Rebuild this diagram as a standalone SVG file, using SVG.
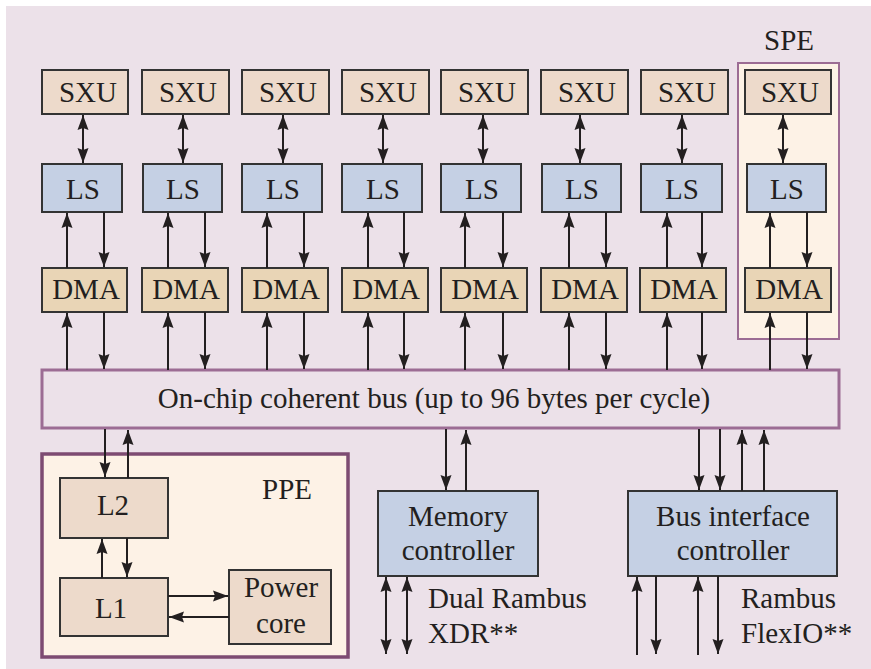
<svg xmlns="http://www.w3.org/2000/svg" width="871" height="669" viewBox="0 0 871 669">
<defs>
<marker id="ah" markerUnits="userSpaceOnUse" markerWidth="16" markerHeight="12" refX="15" refY="6" orient="auto-start-reverse" viewBox="0 0 16 12">
<path d="M0,0.5 L15,6 L0,11.5 L2,6 z" fill="#231f20"/>
</marker>
</defs>
<style>
.sxu{fill:#eddacb;stroke:#333;stroke-width:2}
.ls{fill:#c5d0e4;stroke:#333;stroke-width:2}
.dma{fill:#e9d5b6;stroke:#333;stroke-width:2}
.ctl{fill:#c5d0e4;stroke:#333;stroke-width:2}
.ppeb{fill:#eddacb;stroke:#333;stroke-width:2}
.t{font-family:"Liberation Serif",serif;font-size:29px;fill:#231f20;text-anchor:middle}
.lt{font-family:"Liberation Serif",serif;font-size:29px;fill:#231f20;text-anchor:start}
.c line{stroke:#231f20;stroke-width:2}
.a{marker-end:url(#ah)}
.d{marker-start:url(#ah);marker-end:url(#ah)}
</style>
<rect x="6" y="6" width="865" height="663" fill="#ece1e9"/>
<g id="spe-container">
<rect x="738" y="63" width="101" height="276" fill="#fdf2e6" stroke="#9c6c94" stroke-width="2"/>
<text class="t" x="789" y="50" style="font-family:'Liberation Serif',serif">SPE</text>
</g>
<g id="col1">
<g id="sxu1"><rect class="sxu" x="42" y="70" width="86" height="44"/><text class="t" x="88" y="102" style="font-family:'Liberation Serif',serif">SXU</text></g>
<g id="ls1"><rect class="ls" x="42" y="164" width="80" height="48"/><text class="t" x="83" y="199" style="font-family:'Liberation Serif',serif">LS</text></g>
<g id="dma1"><rect class="dma" x="42" y="268" width="85" height="44"/><text class="t" x="86" y="299" style="font-family:'Liberation Serif',serif">DMA</text></g>
</g>
<g id="col2">
<g id="sxu2"><rect class="sxu" x="142" y="70" width="87" height="44"/><text class="t" x="188" y="102" style="font-family:'Liberation Serif',serif">SXU</text></g>
<g id="ls2"><rect class="ls" x="143" y="164" width="79" height="48"/><text class="t" x="183" y="199" style="font-family:'Liberation Serif',serif">LS</text></g>
<g id="dma2"><rect class="dma" x="142" y="268" width="86" height="44"/><text class="t" x="186" y="299" style="font-family:'Liberation Serif',serif">DMA</text></g>
</g>
<g id="col3">
<g id="sxu3"><rect class="sxu" x="242" y="70" width="87" height="44"/><text class="t" x="288" y="102" style="font-family:'Liberation Serif',serif">SXU</text></g>
<g id="ls3"><rect class="ls" x="242" y="164" width="80" height="48"/><text class="t" x="283" y="199" style="font-family:'Liberation Serif',serif">LS</text></g>
<g id="dma3"><rect class="dma" x="242" y="268" width="86" height="44"/><text class="t" x="286" y="299" style="font-family:'Liberation Serif',serif">DMA</text></g>
</g>
<g id="col4">
<g id="sxu4"><rect class="sxu" x="342" y="70" width="87" height="44"/><text class="t" x="388" y="102" style="font-family:'Liberation Serif',serif">SXU</text></g>
<g id="ls4"><rect class="ls" x="342" y="164" width="80" height="48"/><text class="t" x="383" y="199" style="font-family:'Liberation Serif',serif">LS</text></g>
<g id="dma4"><rect class="dma" x="342" y="268" width="86" height="44"/><text class="t" x="386" y="299" style="font-family:'Liberation Serif',serif">DMA</text></g>
</g>
<g id="col5">
<g id="sxu5"><rect class="sxu" x="441" y="70" width="87" height="44"/><text class="t" x="487" y="102" style="font-family:'Liberation Serif',serif">SXU</text></g>
<g id="ls5"><rect class="ls" x="441" y="164" width="80" height="48"/><text class="t" x="482" y="199" style="font-family:'Liberation Serif',serif">LS</text></g>
<g id="dma5"><rect class="dma" x="441" y="268" width="86" height="44"/><text class="t" x="485" y="299" style="font-family:'Liberation Serif',serif">DMA</text></g>
</g>
<g id="col6">
<g id="sxu6"><rect class="sxu" x="541" y="70" width="87" height="44"/><text class="t" x="587" y="102" style="font-family:'Liberation Serif',serif">SXU</text></g>
<g id="ls6"><rect class="ls" x="542" y="164" width="79" height="48"/><text class="t" x="582" y="199" style="font-family:'Liberation Serif',serif">LS</text></g>
<g id="dma6"><rect class="dma" x="541" y="268" width="86" height="44"/><text class="t" x="585" y="299" style="font-family:'Liberation Serif',serif">DMA</text></g>
</g>
<g id="col7">
<g id="sxu7"><rect class="sxu" x="641" y="70" width="87" height="44"/><text class="t" x="687" y="102" style="font-family:'Liberation Serif',serif">SXU</text></g>
<g id="ls7"><rect class="ls" x="641" y="164" width="81" height="48"/><text class="t" x="682" y="199" style="font-family:'Liberation Serif',serif">LS</text></g>
<g id="dma7"><rect class="dma" x="640" y="268" width="86" height="44"/><text class="t" x="684" y="299" style="font-family:'Liberation Serif',serif">DMA</text></g>
</g>
<g id="col8">
<g id="sxu8"><rect class="sxu" x="745" y="70" width="86" height="44"/><text class="t" x="790" y="102" style="font-family:'Liberation Serif',serif">SXU</text></g>
<g id="ls8"><rect class="ls" x="747" y="164" width="79" height="48"/><text class="t" x="787" y="199" style="font-family:'Liberation Serif',serif">LS</text></g>
<g id="dma8"><rect class="dma" x="745" y="268" width="86" height="44"/><text class="t" x="789" y="299" style="font-family:'Liberation Serif',serif">DMA</text></g>
</g>
<g id="bus">
<rect x="42" y="370" width="797" height="58" fill="#ece1e9" stroke="#9c6c94" stroke-width="3"/>
<text class="t" x="434" y="408" style="font-family:'Liberation Serif',serif">On-chip coherent bus (up to 96 bytes per cycle)</text>
</g>
<g id="ppe">
<rect x="42" y="454" width="306" height="203" fill="#fdf2e6" stroke="#7d4b72" stroke-width="3.5"/>
<text class="t" x="287" y="499" style="font-family:'Liberation Serif',serif">PPE</text>
</g>
<g id="l2"><rect class="ppeb" x="60" y="478" width="108" height="60"/><text class="t" x="113" y="515" style="font-family:'Liberation Serif',serif">L2</text></g>
<g id="l1"><rect class="ppeb" x="60" y="578" width="108" height="58"/><text class="t" x="111" y="618" style="font-family:'Liberation Serif',serif">L1</text></g>
<g id="power-core"><rect class="ppeb" x="229" y="570" width="102" height="74"/><text class="t" x="281" y="597" style="font-family:'Liberation Serif',serif">Power</text><text class="t" x="281" y="633" style="font-family:'Liberation Serif',serif">core</text></g>
<g id="memory-controller"><rect class="ctl" x="378" y="491" width="160" height="85"/><text class="t" x="458" y="526" style="font-family:'Liberation Serif',serif">Memory</text><text class="t" x="458" y="560" style="font-family:'Liberation Serif',serif">controller</text></g>
<g id="bus-interface-controller"><rect class="ctl" x="628" y="491" width="209" height="85"/><text class="t" x="733" y="526" style="font-family:'Liberation Serif',serif">Bus interface</text><text class="t" x="733" y="560" style="font-family:'Liberation Serif',serif">controller</text></g>
<g id="labels">
<text class="lt" x="428" y="608" style="font-family:'Liberation Serif',serif">Dual Rambus</text>
<text class="lt" x="428" y="643" style="font-family:'Liberation Serif',serif">XDR**</text>
<text class="lt" x="741" y="608" style="font-family:'Liberation Serif',serif">Rambus</text>
<text class="lt" x="741" y="643" style="font-family:'Liberation Serif',serif">FlexIO**</text>
</g>
<g id="connectors" class="c">
<line class="d" x1="83" y1="115" x2="83" y2="163"/>
<line class="a" x1="67" y1="268" x2="67" y2="213"/>
<line class="a" x1="104" y1="212" x2="104" y2="267"/>
<line class="a" x1="67" y1="370" x2="67" y2="313"/>
<line class="a" x1="104" y1="312" x2="104" y2="369"/>
<line class="d" x1="183" y1="115" x2="183" y2="163"/>
<line class="a" x1="168" y1="268" x2="168" y2="213"/>
<line class="a" x1="205" y1="212" x2="205" y2="267"/>
<line class="a" x1="168" y1="370" x2="168" y2="313"/>
<line class="a" x1="205" y1="312" x2="205" y2="369"/>
<line class="d" x1="283" y1="115" x2="283" y2="163"/>
<line class="a" x1="267" y1="268" x2="267" y2="213"/>
<line class="a" x1="304" y1="212" x2="304" y2="267"/>
<line class="a" x1="267" y1="370" x2="267" y2="313"/>
<line class="a" x1="304" y1="312" x2="304" y2="369"/>
<line class="d" x1="383" y1="115" x2="383" y2="163"/>
<line class="a" x1="368" y1="268" x2="368" y2="213"/>
<line class="a" x1="404" y1="212" x2="404" y2="267"/>
<line class="a" x1="368" y1="370" x2="368" y2="313"/>
<line class="a" x1="404" y1="312" x2="404" y2="369"/>
<line class="d" x1="483" y1="115" x2="483" y2="163"/>
<line class="a" x1="465" y1="268" x2="465" y2="213"/>
<line class="a" x1="503" y1="212" x2="503" y2="267"/>
<line class="a" x1="465" y1="370" x2="465" y2="313"/>
<line class="a" x1="503" y1="312" x2="503" y2="369"/>
<line class="d" x1="580" y1="115" x2="580" y2="163"/>
<line class="a" x1="569" y1="268" x2="569" y2="213"/>
<line class="a" x1="606" y1="212" x2="606" y2="267"/>
<line class="a" x1="569" y1="370" x2="569" y2="313"/>
<line class="a" x1="606" y1="312" x2="606" y2="369"/>
<line class="d" x1="682" y1="115" x2="682" y2="163"/>
<line class="a" x1="667" y1="268" x2="667" y2="213"/>
<line class="a" x1="702" y1="212" x2="702" y2="267"/>
<line class="a" x1="667" y1="370" x2="667" y2="313"/>
<line class="a" x1="702" y1="312" x2="702" y2="369"/>
<line class="d" x1="783" y1="115" x2="783" y2="163"/>
<line class="a" x1="770" y1="268" x2="770" y2="213"/>
<line class="a" x1="807" y1="212" x2="807" y2="267"/>
<line class="a" x1="770" y1="370" x2="770" y2="313"/>
<line class="a" x1="807" y1="312" x2="807" y2="369"/>
<line class="a" x1="105" y1="429" x2="105" y2="477"/>
<line class="a" x1="128" y1="478" x2="128" y2="430"/>
<line class="a" x1="102" y1="578" x2="102" y2="539"/>
<line class="a" x1="127" y1="538" x2="127" y2="577"/>
<line class="a" x1="168" y1="596" x2="228" y2="596"/>
<line class="a" x1="229" y1="617" x2="169" y2="617"/>
<line class="a" x1="446" y1="429" x2="446" y2="490"/>
<line class="a" x1="466" y1="491" x2="466" y2="430"/>
<line class="a" x1="699" y1="429" x2="699" y2="490"/>
<line class="a" x1="720" y1="429" x2="720" y2="490"/>
<line class="a" x1="742" y1="491" x2="742" y2="430"/>
<line class="a" x1="764" y1="491" x2="764" y2="430"/>
<line class="d" x1="386" y1="577" x2="386" y2="654"/>
<line class="d" x1="407" y1="577" x2="407" y2="654"/>
<line class="a" x1="637" y1="655" x2="637" y2="577"/>
<line class="a" x1="656" y1="576" x2="656" y2="654"/>
<line class="a" x1="698" y1="655" x2="698" y2="577"/>
<line class="a" x1="718" y1="576" x2="718" y2="654"/>
</g>
</svg>
